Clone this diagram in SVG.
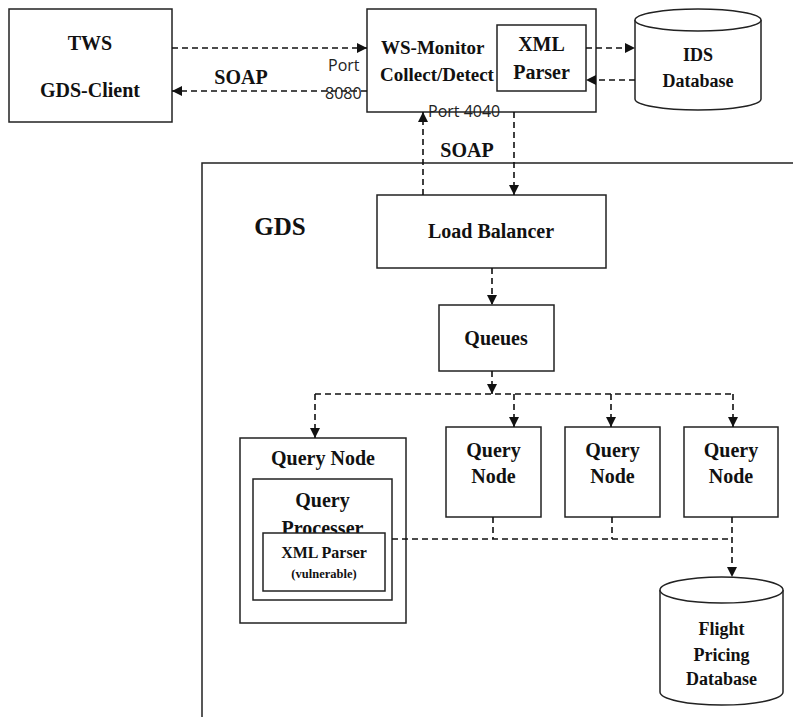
<svg xmlns="http://www.w3.org/2000/svg" width="793" height="717" viewBox="0 0 793 717">
<defs>
<marker id="ah" markerUnits="userSpaceOnUse" markerWidth="11" markerHeight="11" refX="10" refY="5" orient="auto"><path d="M0,0 L10,5 L0,10 z" fill="#111"/></marker>
<style>
.box{fill:#fff;stroke:#222;stroke-width:1.5}
.t{font-family:"Liberation Serif","Times New Roman",serif;font-weight:bold;fill:#111;text-anchor:middle;font-size:20px}
.s{font-family:"Open Sans","Noto Sans",sans-serif;fill:#222;font-size:16px}
.c{fill:none;stroke:#111;stroke-width:1.6;stroke-dasharray:6 4}
.ca{fill:none;stroke:#111;stroke-width:1.6;stroke-dasharray:6 4;marker-end:url(#ah)}
</style>
</defs>
<rect width="793" height="717" fill="#fff"/>
<g id="gds">
<rect x="202" y="163" width="620" height="600" fill="none" stroke="#222" stroke-width="1.5"/>
<text class="t" x="280" y="235" style="font-size:25px">GDS</text>
</g>
<g id="tws">
<rect class="box" x="9" y="9" width="163" height="113"/>
<text class="t" x="90" y="50">TWS</text>
<text class="t" x="90" y="97">GDS-Client</text>
</g>
<g id="wsmonitor">
<rect class="box" x="367" y="9" width="229" height="103"/>
<text class="t" x="381" y="54" style="text-anchor:start;font-size:19px">WS-Monitor</text>
<text class="t" x="380" y="81" style="text-anchor:start;font-size:19px">Collect/Detect</text>
</g>
<g id="xmlparser-monitor">
<rect class="box" x="497" y="25" width="89" height="66"/>
<text class="t" x="541.5" y="51">XML</text>
<text class="t" x="541.5" y="79">Parser</text>
</g>
<g id="ids">
<path d="M635,20 L635,99 A63,11 0 0 0 761,99 L761,20" fill="#fff" stroke="#222" stroke-width="1.5"/>
<ellipse cx="698" cy="20" rx="63" ry="11" fill="#fff" stroke="#222" stroke-width="1.5"/>
<text class="t" x="698" y="61" style="font-size:18px">IDS</text>
<text class="t" x="698" y="87" style="font-size:18px">Database</text>
</g>
<g id="loadbalancer">
<rect class="box" x="377" y="195" width="229" height="73"/>
<text class="t" x="491" y="238">Load Balancer</text>
</g>
<g id="queues">
<rect class="box" x="439" y="305" width="115" height="66"/>
<text class="t" x="496" y="345">Queues</text>
</g>
<g id="querynode1">
<rect class="box" x="240" y="438" width="166" height="185"/>
<text class="t" x="323" y="465">Query Node</text>
<rect class="box" x="253" y="479" width="139" height="121"/>
<text class="t" x="322.5" y="507">Query</text>
<text class="t" x="322.5" y="535">Processer</text>
<rect class="box" x="263" y="533" width="122" height="58"/>
<text class="t" x="324" y="558" style="font-size:16px">XML Parser</text>
<text class="t" x="324" y="578" style="font-size:12.5px">(vulnerable)</text>
</g>
<g id="querynode2">
<rect class="box" x="446" y="427" width="95" height="90"/>
<text class="t" x="493.5" y="457">Query</text>
<text class="t" x="493.5" y="483">Node</text>
</g>
<g id="querynode3">
<rect class="box" x="565" y="427" width="95" height="90"/>
<text class="t" x="612.5" y="457">Query</text>
<text class="t" x="612.5" y="483">Node</text>
</g>
<g id="querynode4">
<rect class="box" x="684" y="427" width="94" height="90"/>
<text class="t" x="731" y="457">Query</text>
<text class="t" x="731" y="483">Node</text>
</g>
<g id="flightdb">
<path d="M660,590 L660,692 A61.5,13 0 0 0 783,692 L783,590" fill="#fff" stroke="#222" stroke-width="1.5"/>
<ellipse cx="721.5" cy="590" rx="61.5" ry="13" fill="#fff" stroke="#222" stroke-width="1.5"/>
<text class="t" x="721.5" y="635" style="font-size:18px">Flight</text>
<text class="t" x="721.5" y="661" style="font-size:18px">Pricing</text>
<text class="t" x="721.5" y="685" style="font-size:18px">Database</text>
</g>
<g id="connectors">
<line class="ca" x1="172" y1="48" x2="367" y2="48"/>
<line class="ca" x1="367" y1="91" x2="172" y2="91"/>
<line class="ca" x1="586" y1="48" x2="635" y2="48"/>
<line class="ca" x1="635" y1="80" x2="586" y2="80"/>
<line class="ca" x1="423" y1="195" x2="423" y2="112"/>
<line class="ca" x1="514" y1="112" x2="514" y2="195"/>
<line class="ca" x1="492" y1="268" x2="492" y2="305"/>
<line class="ca" x1="492" y1="371" x2="492" y2="394"/>
<polyline class="c" points="315,394 733,394"/>
<line class="ca" x1="315" y1="394" x2="315" y2="438"/>
<line class="ca" x1="514" y1="394" x2="514" y2="427"/>
<line class="ca" x1="611" y1="394" x2="611" y2="427"/>
<line class="ca" x1="733" y1="394" x2="733" y2="427"/>
<polyline class="c" points="392,539 732,539"/>
<line class="c" x1="493" y1="517" x2="493" y2="539"/>
<line class="c" x1="612" y1="517" x2="612" y2="539"/>
<line class="ca" x1="732" y1="517" x2="732" y2="577"/>
<text class="t" x="241" y="84">SOAP</text>
<text class="t" x="467" y="157">SOAP</text>
<text class="s" x="328" y="71">Port</text>
<text class="s" x="325" y="99">8080</text>
<text class="s" x="428" y="117">Port 4040</text>
</g>
</svg>
